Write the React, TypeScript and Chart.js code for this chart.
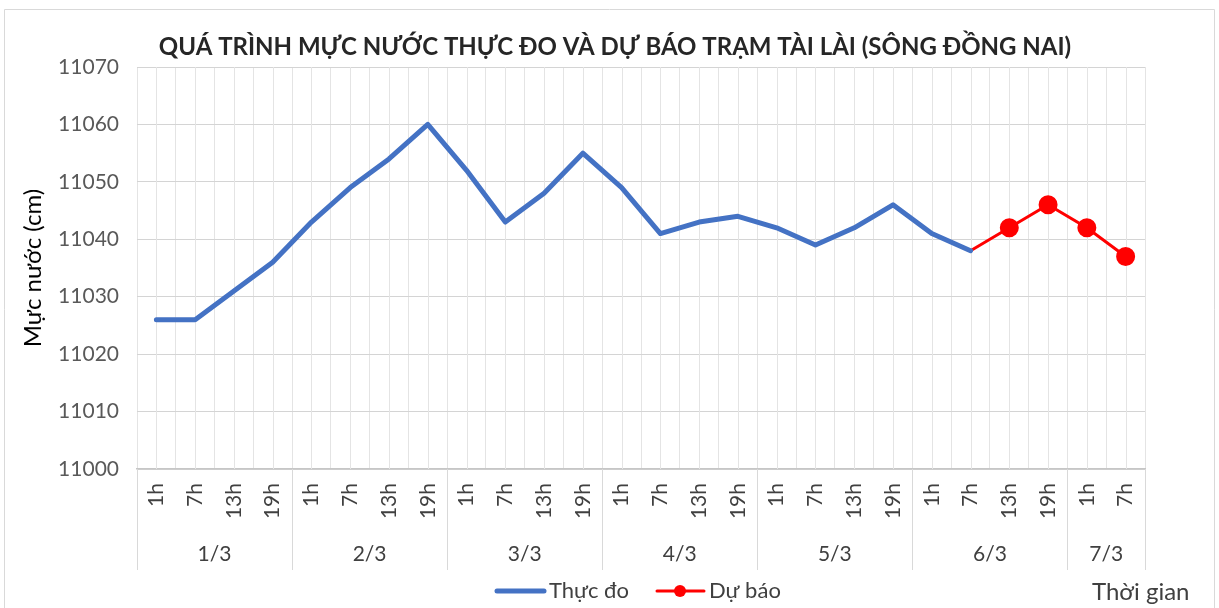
import React, { useEffect, useRef } from "react";
import { Chart, registerables } from "chart.js";

Chart.register(...registerables);

const days = ["1/3", "2/3", "3/3", "4/3", "5/3", "6/3", "7/3"];
const hoursPerDay = [4, 4, 4, 4, 4, 4, 2];
const hours = ["1h", "7h", "13h", "19h"];
const yTicks = [11000, 11010, 11020, 11030, 11040, 11050, 11060, 11070];

const observed = [
  11026, 11026, 11031, 11036, 11043, 11049, 11054, 11060, 11052, 11043, 11048,
  11055, 11049, 11041, 11043, 11044, 11042, 11039, 11042, 11046, 11041, 11038,
];
const forecastStartIndex = 21;
const forecast = [11038, 11042, 11046, 11042, 11037];

const titleText = "QUÁ TRÌNH MỰC NƯỚC THỰC ĐO VÀ DỰ BÁO TRẠM TÀI LÀI (SÔNG ĐỒNG NAI)";
const yTitle = "Mực nước (cm)";
const xTitle = "Thời gian";
const seriesNames = ["Thực đo", "Dự báo"];

const labels: string[] = [];
days.forEach((_, d) => {
  for (let h = 0; h < hoursPerDay[d]; h++) labels.push(hours[h]);
});

const FONT = "Lato, 'Open Sans', sans-serif";
const BLUE = "#4472C4";
const RED = "#FF0000";

export default function App() {
  const ref = useRef<HTMLCanvasElement | null>(null);
  useEffect(() => {
    if (!ref.current) return;
    const n = labels.length;
    const obsData = labels.map((_, i) => (i < observed.length ? observed[i] : null));
    const fcData = labels.map((_, i) =>
      i >= forecastStartIndex && i - forecastStartIndex < forecast.length
        ? forecast[i - forecastStartIndex]
        : null
    );
    const fcRadius = labels.map((_, i) => (i > forecastStartIndex ? 8 : 0));

    const decor = {
      id: "decor",
      beforeDatasetsDraw(chart: any) {
        const { ctx, chartArea, scales } = chart;
        const x = scales.x;
        ctx.save();
        ctx.strokeStyle = "#e4e4e4";
        ctx.lineWidth = 1;
        for (let i = 0; i < n; i++) {
          const px = Math.round(x.getPixelForValue(i)) + 0.5;
          ctx.beginPath();
          ctx.moveTo(px, chartArea.top);
          ctx.lineTo(px, chartArea.bottom);
          ctx.stroke();
        }
        ctx.restore();
      },
      afterDraw(chart: any) {
        const { ctx, chartArea, scales } = chart;
        const x = scales.x;
        const half = (x.getPixelForValue(1) - x.getPixelForValue(0)) / 2;
        ctx.save();
        // outer chart border
        ctx.strokeStyle = "#d9d9d9";
        ctx.lineWidth = 1;
        ctx.beginPath();
        ctx.moveTo(4.5, 640);
        ctx.lineTo(4.5, 9.5);
        ctx.lineTo(1214.5, 9.5);
        ctx.lineTo(1214.5, 640);
        ctx.stroke();

        // title
        ctx.fillStyle = "#262626";
        ctx.font = `bold 24px ${FONT}`;
        ctx.textAlign = "center";
        ctx.textBaseline = "middle";
        ctx.fillText(titleText, 615, 47);

        // day group separators and labels
        let idx = 0;
        ctx.strokeStyle = "#d9d9d9";
        ctx.lineWidth = 1;
        const bounds: number[] = [];
        days.forEach((_, d) => {
          bounds.push(x.getPixelForValue(idx) - half);
          idx += hoursPerDay[d];
        });
        bounds.push(x.getPixelForValue(idx - 1) + half);
        bounds.forEach((b) => {
          const px = Math.round(b) + 0.5;
          ctx.beginPath();
          ctx.moveTo(px, chartArea.bottom);
          ctx.lineTo(px, 570);
          ctx.stroke();
        });
        ctx.fillStyle = "#404040";
        ctx.font = `21px ${FONT}`;
        days.forEach((day, d) => {
          ctx.fillText(day, (bounds[d] + bounds[d + 1]) / 2, 554);
        });

        // x title
        ctx.textAlign = "left";
        ctx.font = `24px ${FONT}`;
        ctx.fillText(xTitle, 1092, 592);

        // legend
        ctx.font = `22px ${FONT}`;
        ctx.lineCap = "round";
        ctx.strokeStyle = BLUE;
        ctx.lineWidth = 5;
        ctx.beginPath();
        ctx.moveTo(497, 591);
        ctx.lineTo(544, 591);
        ctx.stroke();
        ctx.fillStyle = "#404040";
        ctx.fillText(seriesNames[0], 549, 591);
        ctx.strokeStyle = RED;
        ctx.lineWidth = 3;
        ctx.beginPath();
        ctx.moveTo(657, 591);
        ctx.lineTo(704, 591);
        ctx.stroke();
        ctx.fillStyle = RED;
        ctx.beginPath();
        ctx.arc(680, 591, 6, 0, Math.PI * 2);
        ctx.fill();
        ctx.fillStyle = "#404040";
        ctx.fillText(seriesNames[1], 709, 591);
        ctx.restore();
      },
    };

    const chart = new Chart(ref.current, {
      type: "line",
      data: {
        labels,
        datasets: [
          {
            label: seriesNames[0],
            data: obsData,
            borderColor: BLUE,
            backgroundColor: BLUE,
            borderWidth: 5,
            pointRadius: 0,
            tension: 0,
            borderJoinStyle: "round",
            borderCapStyle: "round",
            spanGaps: false,
          },
          {
            label: seriesNames[1],
            data: fcData,
            borderColor: RED,
            backgroundColor: RED,
            borderWidth: 3,
            pointRadius: fcRadius,
            pointBackgroundColor: RED,
            pointBorderColor: RED,
            tension: 0,
            spanGaps: false,
          },
        ],
      },
      options: {
        responsive: false,
        animation: false,
        layout: { padding: { left: 0, right: 74, top: 67, bottom: 0 } },
        plugins: {
          legend: { display: false },
          title: { display: false },
          tooltip: { enabled: false },
        },
        scales: {
          x: {
            offset: true,
            afterFit: (s: any) => {
              s.height = 139;
            },
            grid: {
              offset: true,
              color: "#e4e4e4",
              drawTicks: false,
            },
            border: { display: true, color: "#c6c6c6", width: 1.5 },
            ticks: {
              autoSkip: false,
              minRotation: 90,
              maxRotation: 90,
              padding: 14,
              color: "#404040",
              font: { family: FONT, size: 21 },
            },
          },
          y: {
            min: 11000,
            max: 11070,
            afterFit: (s: any) => {
              s.width = 137;
            },
            afterBuildTicks: (s: any) => {
              s.ticks = yTicks.map((v) => ({ value: v }));
            },
            grid: { color: "#d4d4d4", drawTicks: false },
            border: { display: false },
            ticks: {
              padding: 18,
              color: "#595959",
              font: { family: FONT, size: 21 },
              callback: (v: any) => String(v),
            },
            title: {
              display: true,
              text: yTitle,
              color: "#000000",
              font: { family: FONT, size: 24 },
              padding: { top: 19, bottom: 0 },
            },
          },
        },
      },
      plugins: [decor],
    });
    return () => chart.destroy();
  }, []);

  return (
    <div style={{ position: "fixed", left: 0, top: 0, width: 1219, height: 608, background: "#fff" }}>
      <canvas ref={ref} width={1219} height={608} style={{ display: "block" }} />
    </div>
  );
}
